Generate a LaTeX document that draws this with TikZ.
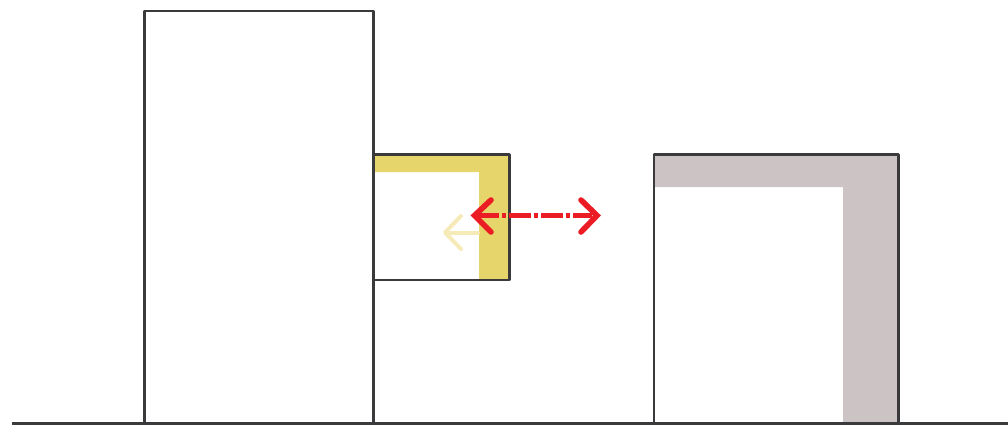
\documentclass[tikz,border=0pt]{standalone}
\definecolor{yband}{HTML}{E6D56A}
\definecolor{gband}{HTML}{CBC3C4}
\definecolor{pale}{HTML}{F6EBB8}
\definecolor{redarrow}{HTML}{EC1C24}
\definecolor{ink}{HTML}{3A3A3C}
\tikzset{
  outline/.style={draw=ink,line width=2pt,line join=round},
  palearrow/.style={pale,line width=3pt,line cap=round,line join=round},
  redhead/.style={redarrow,line width=4.2pt,line cap=round,line join=miter}}
\begin{document}
\begin{tikzpicture}[x=0.75pt,y=-0.75pt]
\useasboundingbox (0,0) rectangle (1008,426);
\fill[white] (0,0) rectangle (1008,426);
% bands
\fill[yband] (374,155) -- (509,155) -- (509,280) -- (479,280) -- (479,172) -- (374,172) -- cycle;
\fill[gband] (654,155) -- (898,155) -- (898,423) -- (843,423) -- (843,187) -- (654,187) -- cycle;
% pale arrow
\draw[palearrow] (478,232.5) -- (446,232.5);
\draw[palearrow] (461,216) -- (445,232.5) -- (461,249);
% outlines
\draw[outline] (144.5,423) -- (144.5,11) -- (373.5,11) -- (373.5,423);
\draw[outline] (373.5,154.5) -- (509.5,154.5) -- (509.5,280) -- (373.5,280);
\draw[outline] (654,423) -- (654,154.5) -- (898.5,154.5) -- (898.5,423);
\draw[outline] (12,423.5) -- (1008,423.5);
% red arrow
\draw[redarrow,line width=3.6pt,dash pattern=on 16.5pt off 2.5pt on 2.5pt off 2.5pt] (477,215.5) -- (592,215.5);
\draw[redhead] (491,200) -- (474.5,215.5) -- (491,232);
\draw[redhead] (581,200) -- (597,215.5) -- (581,232);
\end{tikzpicture}
\end{document}
